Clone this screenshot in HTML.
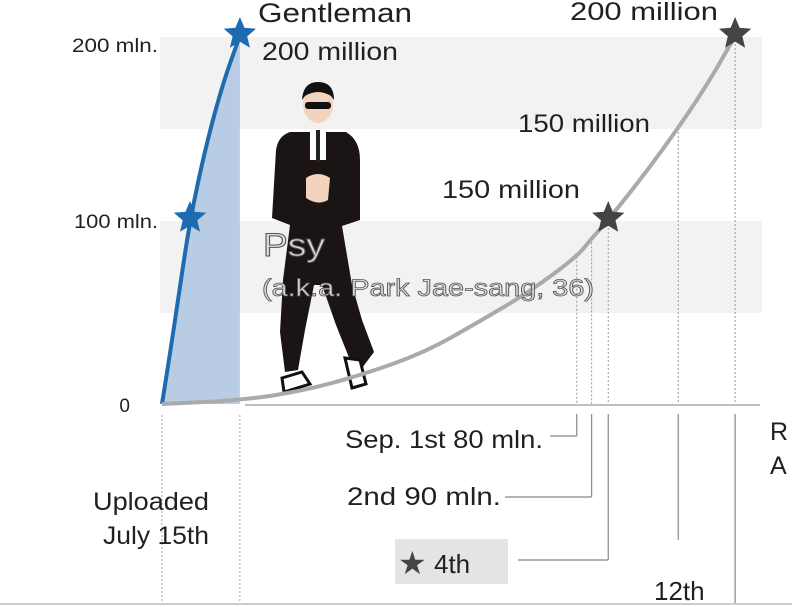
<!DOCTYPE html>
<html><head><meta charset="utf-8"><style>
body{margin:0;background:#fff;}
svg{display:block;font-family:"Liberation Sans",sans-serif;}
</style></head><body>
<svg id="chart" width="792" height="607" viewBox="0 0 792 607">
<g id="bands"></g>
<g id="base"></g>
<g id="psy">
  <ellipse cx="318" cy="104" rx="15" ry="19" fill="#f2d3bd"/>
  <path d="M302 100 Q303 82 318 82 Q334 82 334 100 L331 96 Q318 88 305 96Z" fill="#111"/>
  <rect x="305" y="102" width="26" height="7" rx="3" fill="#111"/>
  <path d="M290 132 L346 132 Q360 140 360 160 L360 220 L342 226 L352 285 L362 320 L374 352 L362 368 L350 360 L336 325 L322 285 L314 285 L305 330 L298 370 L285 372 L280 332 L283 280 L290 225 L272 218 L276 150 Q278 136 290 132Z" fill="#1a1414"/>
  <rect x="310" y="130" width="16" height="30" fill="#fff"/>
  <rect x="316" y="130" width="4" height="32" fill="#222"/>
  <path d="M306 178 Q318 170 330 178 L328 200 Q318 206 306 198Z" fill="#f2d3bd"/>
  <path d="M282 378 L302 372 L310 384 L284 392 Z" fill="#fff" stroke="#111" stroke-width="3"/>
  <path d="M345 358 L360 360 L366 384 L352 388 Z" fill="#fff" stroke="#111" stroke-width="3"/>
</g>
<g id="series"></g>
<g id="labels" fill="#231f20">
  <text x="258" y="22" font-size="27" textLength="154" lengthAdjust="spacingAndGlyphs">Gentleman</text>
  <text x="262" y="60" font-size="25" textLength="136" lengthAdjust="spacingAndGlyphs">200 million</text>
  <text x="570" y="20" font-size="25" textLength="148" lengthAdjust="spacingAndGlyphs">200 million</text>
  <text x="518" y="132" font-size="25" textLength="132" lengthAdjust="spacingAndGlyphs">150 million</text>
  <text x="442" y="198" font-size="25" textLength="138" lengthAdjust="spacingAndGlyphs">150 million</text>
  <text x="263" y="256" font-size="32" fill="#ddd" stroke="#555" stroke-width="1" textLength="62" lengthAdjust="spacingAndGlyphs">Psy</text>
  <text x="262" y="296" font-size="24" fill="#ddd" stroke="#555" stroke-width="0.8" textLength="332" lengthAdjust="spacingAndGlyphs">(a.k.a. Park Jae-sang, 36)</text>
  <text x="72" y="52" font-size="19" textLength="86" lengthAdjust="spacingAndGlyphs">200 mln.</text>
  <text x="74" y="228" font-size="19" textLength="84" lengthAdjust="spacingAndGlyphs">100 mln.</text>
  <text x="130" y="412" font-size="19" text-anchor="end">0</text>
  <text x="93" y="510" font-size="25" textLength="116" lengthAdjust="spacingAndGlyphs">Uploaded</text>
  <text x="103" y="544" font-size="25" textLength="106" lengthAdjust="spacingAndGlyphs">July 15th</text>
  <text x="345" y="448" font-size="25" textLength="198" lengthAdjust="spacingAndGlyphs">Sep. 1st 80 mln.</text>
  <text x="347" y="505" font-size="25" textLength="154" lengthAdjust="spacingAndGlyphs">2nd  90 mln.</text>
  <rect x="395" y="539" width="113" height="45" fill="#e4e4e4"/>
  <text x="398" y="574" font-size="32" fill="#444">★</text>
  <text x="434" y="573" font-size="26">4th</text>
  <text x="654" y="600" font-size="26">12th</text>
  <text x="770" y="440" font-size="25">R</text>
  <text x="770" y="474" font-size="25">A</text>
</g>
<line x1="0" y1="604" x2="792" y2="604" stroke="#ccc" stroke-width="2"/>
</svg>
<script>
const yTicks=[0,100,200];
const gentlemanDays=[0,1,2,3.2,5,7,8.9];
const gentlemanViews=[0,30,62,100,140,175,200];
const gangnamDays=[0,9,16,23,30,36,42,47.4,49.1,51,55,59,62.5,65.5];
const gangnamViews=[0,2,7,16,28,44,61,80,90,100,124,150,175,200];
const milestoneDays=[47.4,49.1,51,59,65.5];
const milestoneViews=[80,90,100,150,200];
const NS='http://www.w3.org/2000/svg';
const x=d=>162+d*8.75;
const y=v=>404-v*1.84;
function mk(tag,attrs,parent){const e=document.createElementNS(NS,tag);for(const k in attrs)e.setAttribute(k,attrs[k]);document.getElementById(parent).appendChild(e);return e;}
[[150,200],[50,100]].forEach((b,i)=>{const r=mk('rect',{x:160,y:y(b[1])+1,width:602,height:y(b[0])-y(b[1]),fill:'#f2f2f2'},'bands');

});
const ax=mk('line',{x1:245,y1:405,x2:760,y2:405,stroke:'#aaa','stroke-width':1.5},'base');


[x(0),x(8.9)].forEach((xx,i)=>{const l=mk('line',{x1:xx,y1:415,x2:xx,y2:604,stroke:'#aaa','stroke-dasharray':'2,2'},'base');

});
const ends=[436,497,560,540,604];
milestoneDays.forEach((d,i)=>{const xx=x(d);
const g=mk('line',{x1:xx,y1:y(milestoneViews[i]),x2:xx,y2:404,stroke:'#999','stroke-dasharray':'2,2'},'base');


const v=mk('line',{x1:xx,y1:414,x2:xx,y2:ends[i],stroke:'#888','stroke-width':1.2},'base');

});
[[550,x(47.4),436],[505,x(49.1),497],[518,x(51),560]].forEach((h,i)=>{const l=mk('line',{x1:h[0],y1:h[2],x2:h[1],y2:h[2],stroke:'#888','stroke-width':1.2},'base');

});
function path(ds,vs){let p='M'+x(ds[0])+' '+y(vs[0]);for(let i=1;i<ds.length;i++){const x0=x(ds[i-1]),y0=y(vs[i-1]),x1=x(ds[i]),y1=y(vs[i]);p+=' Q'+x0+' '+y0+' '+(x0+x1)/2+' '+(y0+y1)/2;} p+=' L'+x(ds[ds.length-1])+' '+y(vs[vs.length-1]);return p;}
const gp=path(gentlemanDays,gentlemanViews);
const fill=mk('path',{d:gp+' L'+x(8.9)+' 404 L'+x(0)+' 404Z',fill:'#b8cce4'},'series');


const gl=mk('path',{d:gp,fill:'none',stroke:'#1f6bb0','stroke-width':4},'series');


const sl=mk('path',{d:path(gangnamDays,gangnamViews),fill:'none',stroke:'#aaa','stroke-width':4},'series');


function star(cx,cy,r,col,name){let p='';for(let i=0;i<10;i++){const a=-Math.PI/2+i*Math.PI/5,rr=i%2?r*0.45:r;p+=(i?'L':'M')+(cx+rr*Math.cos(a)).toFixed(1)+' '+(cy+rr*Math.sin(a)).toFixed(1);}
const s=mk('path',{d:p+'Z',fill:col},'series');

}
star(x(3.2),y(100)-2,17,'#1f6bb0','gentleman-100m-star');
star(x(8.9),y(200)-2,17,'#1f6bb0','gentleman-200m-star');
star(x(51),y(100)-2,17,'#444','gangnam-100m-star');
star(x(65.5),y(200)-2,17,'#444','gangnam-200m-star');
</script>
</body></html>
